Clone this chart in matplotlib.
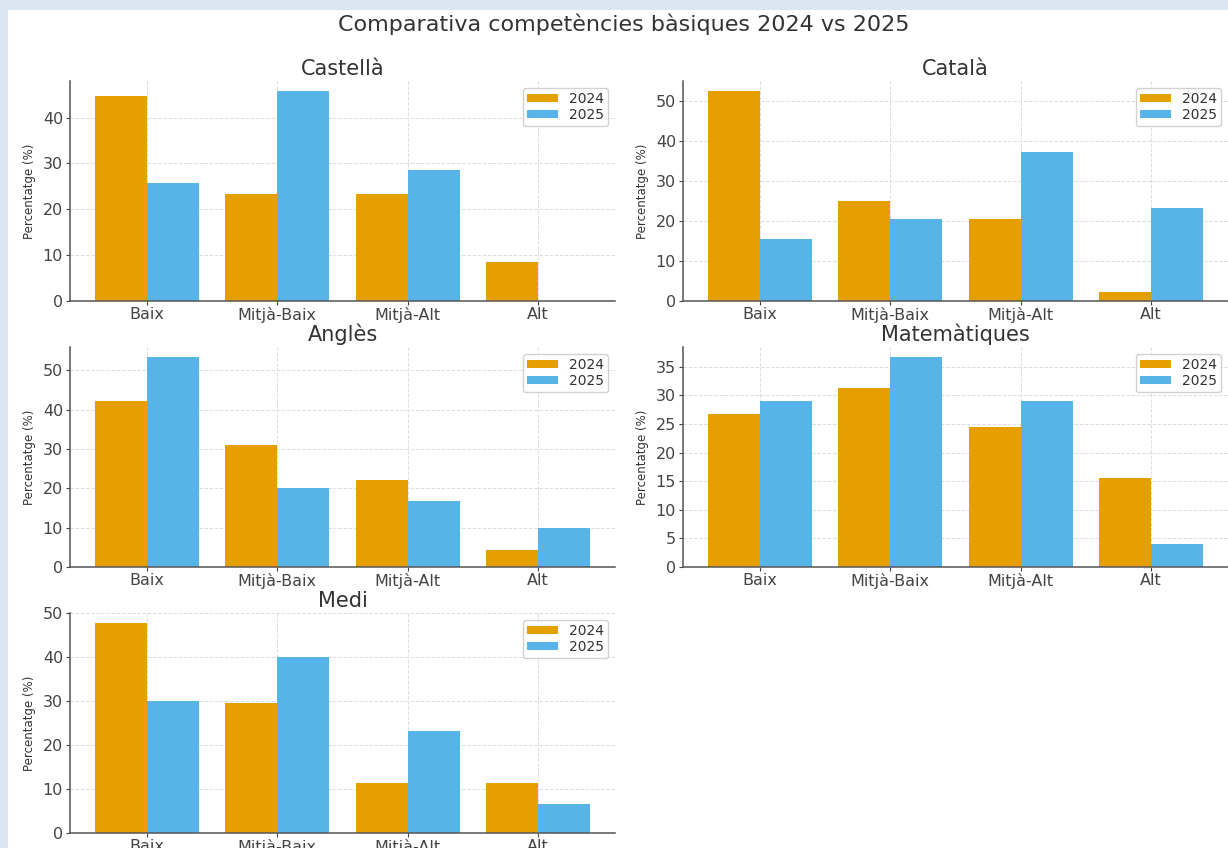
import matplotlib
matplotlib.use('Agg')
import matplotlib.pyplot as plt
from matplotlib.patches import Rectangle
from matplotlib.ticker import MultipleLocator
import numpy as np

W, H = 1228, 848

levels = ['Baix', 'Mitjà-Baix', 'Mitjà-Alt', 'Alt']
subjects = ['Castellà', 'Català', 'Anglès', 'Matemàtiques', 'Medi']

vals_2024 = {
    'Castellà':     [44.7, 23.4, 23.4, 8.5],
    'Català':       [52.3, 25.0, 20.5, 2.3],
    'Anglès':       [42.2, 31.1, 22.2, 4.4],
    'Matemàtiques': [26.7, 31.3, 24.4, 15.6],
    'Medi':         [47.7, 29.5, 11.4, 11.4],
}
vals_2025 = {
    'Castellà':     [25.7, 45.7, 28.6, 0.0],
    'Català':       [15.4, 20.5, 37.2, 23.3],
    'Anglès':       [53.3, 20.0, 16.7, 10.0],
    'Matemàtiques': [29.0, 36.6, 29.0, 4.0],
    'Medi':         [30.0, 40.0, 23.3, 6.7],
}
ytick_step = {'Castellà': 10, 'Català': 10, 'Anglès': 10, 'Matemàtiques': 5, 'Medi': 10}

C24 = '#E69F00'
C25 = '#56B4E9'
TXT = '#333333'

plt.rcParams['font.family'] = 'DejaVu Sans'
plt.rcParams['text.color'] = TXT
plt.rcParams['axes.labelcolor'] = TXT
plt.rcParams['xtick.color'] = '#444444'
plt.rcParams['ytick.color'] = '#444444'

fig = plt.figure(figsize=(W / 100, H / 100), dpi=100, facecolor='#dce6f1')
fig.patches.append(Rectangle((8 / W, 0), 1, (H - 10) / H, transform=fig.transFigure,
                             facecolor='white', edgecolor='none', zorder=-1))

fig.text(624 / W, 1 - 24 / H, 'Comparativa competències bàsiques 2024 vs 2025',
         ha='center', va='center', fontsize=16, color=TXT)

# axes boxes in pixels: left, top
boxes = [(70, 81), (683, 81), (70, 347), (683, 347), (70, 613)]
aw, ah = 545, 220

x = np.arange(len(levels))
bw = 0.4
for subj, (l, t) in zip(subjects, boxes):
    ax = fig.add_axes([l / W, 1 - (t + ah) / H, aw / W, ah / H])
    ax.bar(x - bw / 2, vals_2024[subj], bw, color=C24, label='2024', zorder=2)
    ax.bar(x + bw / 2, vals_2025[subj], bw, color=C25, label='2025', zorder=2)
    ax.set_xticks(x)
    ax.set_xticklabels(levels, fontsize=11.5)
    ax.yaxis.set_major_locator(MultipleLocator(ytick_step[subj]))
    ax.tick_params(axis='y', labelsize=11.5, length=3, width=0.8, pad=2)
    ax.tick_params(axis='x', length=3, width=0.8, pad=1)
    ax.set_title(subj, fontsize=15, color=TXT, pad=4)
    ax.set_ylabel('Percentatge (%)', fontsize=8.5, labelpad=5)
    ax.grid(True, linestyle='--', linewidth=0.7, color='#dddddd', zorder=0)
    ax.set_axisbelow(True)
    for s in ['top', 'right']:
        ax.spines[s].set_visible(False)
    for s in ['left', 'bottom']:
        ax.spines[s].set_color('#555555')
        ax.spines[s].set_linewidth(1.1)
    leg = ax.legend(loc='upper right', fontsize=10, handleheight=0.5,
                    labelspacing=0.15, borderpad=0.3, handlelength=2.2,
                    framealpha=0.9, edgecolor='#cccccc')
    for txt in leg.get_texts():
        txt.set_color(TXT)

fig.savefig('out.png', dpi=100, facecolor=fig.get_facecolor())
